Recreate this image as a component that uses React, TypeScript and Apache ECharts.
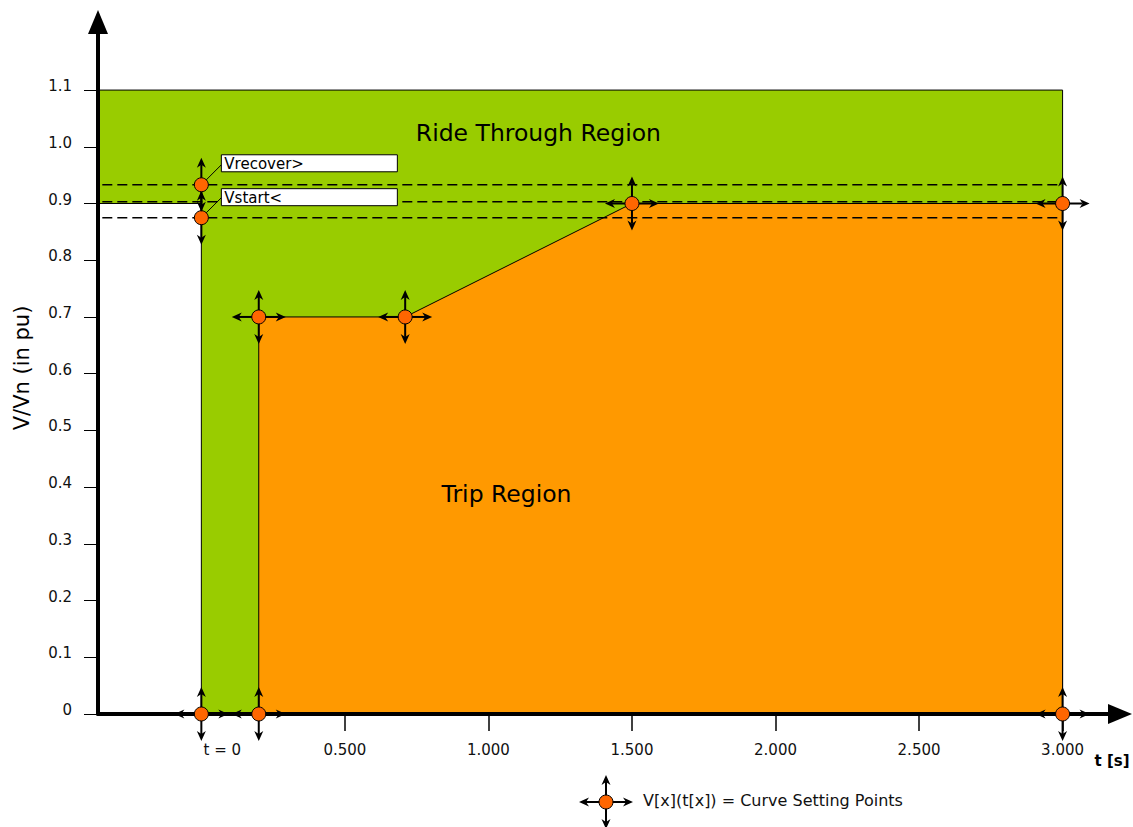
import React, { useEffect, useRef } from "react";
import * as echarts from "echarts";

// ---- axes ----
const xTickValues = [0.5, 1, 1.5, 2, 2.5, 3];
const xLabelValues = [0, 0.5, 1, 1.5, 2, 2.5, 3];
const yTickValues = [0, 0.1, 0.2, 0.3, 0.4, 0.5, 0.6, 0.7, 0.8, 0.9, 1.0, 1.1];

// ---- regions (t in s, V in pu) ----
const rideThroughT = [-0.36, -0.36, 3, 3, 0, 0];
const rideThroughV = [0.9, 1.1, 1.1, 0, 0, 0.9];
const tripT = [0.2, 0.2, 0.71, 1.5, 3, 3];
const tripV = [0, 0.7, 0.7, 0.9, 0.9, 0];

// ---- dashed threshold lines ----
const dashLevels = [0.933, 0.903, 0.875];
const dashStartT = -0.345;
const dashEndT = 2.99;

// ---- curve setting points ----
const pointT = [0, 0, 0, 0.2, 0.2, 0.71, 1.5, 3, 3];
const pointV = [0, 0.875, 0.933, 0, 0.7, 0.7, 0.9, 0.9, 0];
const pointDirs = ["lrud", "ud", "ud", "lrud", "lrud", "lrud", "lrud", "lrud", "lrud"];

// ---- labelled boxes ----
const boxLabels = ["Vrecover>", "Vstart<"];
const boxT = [0, 0];
const boxV = [0.933, 0.875];

// ---- region labels ----
const regionLabels = ["Ride Through Region", "Trip Region"];
const regionLabelT = [1.174, 1.063];
const regionLabelV = [1.025, 0.388];

const FONT = "DejaVu Sans";

function markerChildren(cx: number, cy: number, dirs: string): any[] {
  const L = 27, head = 10, hw = 4.5;
  const vec: Record<string, [number, number]> = { l: [-1, 0], r: [1, 0], u: [0, -1], d: [0, 1] };
  const out: any[] = [];
  for (const ch of dirs) {
    const [dx, dy] = vec[ch];
    const bx = cx + dx * (L - head), by = cy + dy * (L - head);
    out.push({
      type: "line",
      shape: { x1: cx, y1: cy, x2: bx + dx * 3, y2: by + dy * 3 },
      style: { stroke: "#000", lineWidth: 2 },
    });
    out.push({
      type: "polygon",
      shape: {
        points: [
          [cx + dx * L, cy + dy * L],
          [bx - dy * hw, by + dx * hw],
          [bx + dx * 3, by + dy * 3],
          [bx + dy * hw, by - dx * hw],
        ],
      },
      style: { fill: "#000" },
    });
  }
  out.push({
    type: "circle",
    shape: { cx, cy, r: 7 },
    style: { fill: "#ff6600", stroke: "#000", lineWidth: 1 },
  });
  return out;
}

export default function App() {
  const ref = useRef<HTMLDivElement>(null);

  useEffect(() => {
    if (!ref.current) return;
    const chart = echarts.init(ref.current, undefined, { renderer: "svg" });

    const polygonSeries = (ts: number[], vs: number[], fill: string, z: number) => ({
      type: "custom",
      z,
      silent: true,
      data: [[ts[0], vs[0]]],
      renderItem: (_p: any, api: any) => ({
        type: "polygon",
        shape: { points: ts.map((t, i) => api.coord([t, vs[i]])) },
        style: { fill, stroke: "#000", lineWidth: 1 },
      }),
    });

    const dashSeries = dashLevels.map((lv) => ({
      type: "line",
      z: 3,
      silent: true,
      showSymbol: false,
      symbol: "none",
      data: [
        [dashStartT, lv],
        [dashEndT, lv],
      ],
      lineStyle: { color: "#000", width: 1.5, type: [10, 5] },
    }));

    const option: any = {
      animation: false,
      grid: { left: 98, right: 13, top: 22, bottom: 113, outerBoundsMode: "none" },
      xAxis: {
        type: "value",
        min: -0.36,
        max: 3.2,
        z: 5,
        splitLine: { show: false },
        axisLine: {
          show: true,
          onZero: false,
          symbol: ["none", "triangle"],
          symbolSize: [20, 24],
          lineStyle: { color: "#000", width: 4 },
        },
        axisTick: {
          show: true,
          customValues: xTickValues,
          length: 17,
          lineStyle: { color: "#000", width: 1.5 },
        },
        axisLabel: {
          customValues: xLabelValues,
          margin: 28,
          fontSize: 15,
          fontFamily: FONT,
          color: "#111",
          formatter: (v: number) => (v === 0 ? "{z|t = 0}" : v.toFixed(3)),
          rich: {
            z: { padding: [0, 0, 0, 42], fontSize: 15, fontFamily: FONT, color: "#111" },
          },
        },
      },
      yAxis: {
        type: "value",
        min: 0,
        max: 1.22,
        z: 5,
        name: "V/Vn (in pu)",
        nameLocation: "middle",
        nameGap: 66,
        nameTextStyle: { fontSize: 21, fontFamily: FONT, color: "#000" },
        splitLine: { show: false },
        axisLine: {
          show: true,
          onZero: false,
          symbol: ["none", "triangle"],
          symbolSize: [20, 24],
          lineStyle: { color: "#000", width: 4 },
        },
        axisTick: {
          show: true,
          customValues: yTickValues,
          length: 14,
          lineStyle: { color: "#000", width: 1 },
        },
        axisLabel: {
          customValues: yTickValues,
          margin: 26,
          fontSize: 15,
          fontFamily: FONT,
          color: "#111",
          formatter: (v: number) => "{a|" + (v === 0 ? "0" : v.toFixed(1)) + "}",
          rich: {
            a: { padding: [0, 0, 8, 0], fontSize: 15, fontFamily: FONT, color: "#111" },
          },
        },
      },
      series: [
        polygonSeries(rideThroughT, rideThroughV, "#99cc00", 1),
        polygonSeries(tripT, tripV, "#ff9900", 2),
        ...dashSeries,
        {
          type: "custom",
          z: 4,
          silent: true,
          data: boxT.map((t, i) => [t, boxV[i]]),
          renderItem: (p: any, api: any) => {
            const i = p.dataIndex;
            const [cx, cy] = api.coord([api.value(0), api.value(1)]);
            const bx = cx + 20;
            const by = cy - 30 + i;
            return {
              type: "group",
              children: [
                { type: "line", shape: { x1: cx, y1: cy, x2: bx, y2: cy - 20 }, style: { stroke: "#000", lineWidth: 1 } },
                { type: "rect", shape: { x: bx, y: by, width: 176, height: 17 }, style: { fill: "#fff", stroke: "#000", lineWidth: 1 } },
                {
                  type: "text",
                  x: bx + 3,
                  y: by + 9,
                  style: {
                    text: boxLabels[i],
                    fill: "#000",
                    font: `15px "${FONT}"`,
                    align: "left",
                    verticalAlign: "middle",
                    textAlign: "left",
                    textVerticalAlign: "middle",
                  },
                },
              ],
            };
          },
        },
        {
          type: "custom",
          z: 4,
          silent: true,
          data: regionLabelT.map((t, i) => [t, regionLabelV[i]]),
          renderItem: (p: any, api: any) => {
            const [x, y] = api.coord([api.value(0), api.value(1)]);
            return {
              type: "text",
              x,
              y,
              style: {
                text: regionLabels[p.dataIndex],
                fill: "#000",
                font: `23.5px "${FONT}"`,
                align: "center",
                verticalAlign: "middle",
                textAlign: "center",
                textVerticalAlign: "middle",
              },
            };
          },
        },
        {
          type: "custom",
          z: 10,
          silent: true,
          data: pointT.map((t, i) => [t, pointV[i]]),
          renderItem: (p: any, api: any) => {
            const [cx, cy] = api.coord([api.value(0), api.value(1)]);
            return { type: "group", children: markerChildren(cx, cy, pointDirs[p.dataIndex]) };
          },
        },
      ],
      graphic: [
        {
          type: "text",
          x: 1112,
          y: 761,
          z: 20,
          style: {
            text: "t [s]",
            fill: "#000",
            font: `bold 15px "${FONT}"`,
            align: "center",
            verticalAlign: "middle",
            textAlign: "center",
            textVerticalAlign: "middle",
          },
        },
        {
          type: "group",
          z: 20,
          children: markerChildren(606, 802, "lrud"),
        },
        {
          type: "text",
          x: 643,
          y: 800,
          z: 20,
          style: {
            text: "V[x](t[x]) = Curve Setting Points",
            fill: "#111",
            font: `16px "${FONT}"`,
            align: "left",
            verticalAlign: "middle",
            textAlign: "left",
            textVerticalAlign: "middle",
          },
        },
      ],
    };

    chart.setOption(option);
    return () => chart.dispose();
  }, []);

  return (
    <div
      ref={ref}
      style={{ position: "absolute", left: 0, top: 0, width: 1133, height: 827, background: "#fff" }}
    />
  );
}
